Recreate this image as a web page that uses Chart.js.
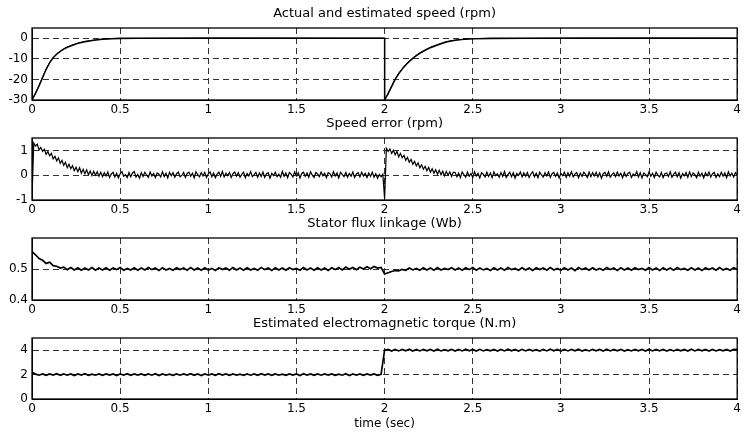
<!DOCTYPE html>
<html>
<head>
<meta charset="utf-8">
<script src="https://cdn.jsdelivr.net/npm/chart.js@4.4.0/dist/chart.umd.min.js"></script>
<style>
html, body { margin:0; padding:0; background:#fff; overflow:hidden; }
body { width:744px; height:434px; position:relative; }
canvas { position:absolute; left:0; }
</style>
</head>
<body>
<canvas id="c1" width="744" height="122" style="top:0px"></canvas>
<canvas id="c2" width="744" height="112" style="top:110px"></canvas>
<canvas id="c3" width="744" height="112" style="top:210px"></canvas>
<canvas id="c4" width="744" height="124" style="top:310px"></canvas>
<script>
// tick labels
const xTicks = [0, 0.5, 1, 1.5, 2, 2.5, 3, 3.5, 4];
const speedTicks = [-30, -20, -10, 0];
const errTicks = [-1, 0, 1];
const fluxTicks = [0.4, 0.5];
const torqueTicks = [0, 2, 4];

// speed (rpm)
const speedT = [0, 0.02, 0.04, 0.06, 0.08, 0.1, 0.12, 0.14, 0.16, 0.18, 0.2, 0.23, 0.26, 0.3, 0.35, 0.4, 0.45, 0.5, 0.6, 0.8, 1.0, 1.5, 2.0,
  2.0, 2.02, 2.04, 2.06, 2.08, 2.1, 2.12, 2.14, 2.16, 2.18, 2.2, 2.23, 2.26, 2.3, 2.35, 2.4, 2.45, 2.5, 2.6, 2.8, 3.0, 3.5, 4.0];
const speedActual = [-30, -26.8, -23.2, -19.2, -15.2, -11.9, -9.5, -7.8, -6.4, -5.3, -4.4, -3.4, -2.5, -1.7, -1.0, -0.5, -0.25, -0.1, -0.03, 0, 0, 0, 0,
  -30, -27, -23.5, -20, -17.3, -15, -13, -11.3, -9.8, -8.5, -7.3, -5.9, -4.6, -3.3, -1.8, -1.0, -0.55, -0.3, -0.12, -0.03, 0, 0, 0];
const speedEst = [-30, -26.5, -22.8, -18.8, -14.9, -11.7, -9.3, -7.6, -6.2, -5.1, -4.2, -3.2, -2.3, -1.5, -0.8, -0.35, -0.1, 0.05, 0.1, 0.05, 0.15, 0.1, 0.05,
  -30, -26.6, -23.1, -19.7, -17.0, -14.7, -12.7, -11.0, -9.5, -8.2, -7.0, -5.6, -4.3, -3.0, -1.6, -0.8, -0.4, -0.15, 0.05, 0.1, 0.1, 0.15, 0.1];

// speed error (rpm), one value every 0.01 s
const errT = [];
for (let i = 0; i <= 400; i++) errT.push(+(i * 0.01).toFixed(2));

const speedError = [
  -0.95, 1.30, 1.18, 1.25, 1.02, 1.12, 0.96, 1.05, 0.84, 0.95,
  0.78, 0.88, 0.66, 0.76, 0.58, 0.70, 0.48, 0.60, 0.40, 0.52,
  0.30, 0.44, 0.26, 0.38, 0.18, 0.32, 0.14, 0.30, 0.08, 0.24,
  0.06, 0.22, 0.02, 0.17, -0.02, 0.16, 0.00, 0.14, -0.04, 0.12,
  -0.06, 0.10, -0.03, 0.13, -0.09, 0.05, 0.12, -0.07, 0.08, -0.11,
  0.06, 0.14, -0.04, 0.02, -0.10, 0.11, -0.06, 0.09, 0.15, -0.08,
  0.03, -0.12, 0.10, -0.05, 0.12, 0.01, -0.09, 0.13, -0.03, 0.07,
  -0.10, 0.09, 0.04, -0.07, 0.14, -0.05, 0.08, -0.11, 0.12, -0.02,
  0.10, -0.08, 0.06, 0.13, -0.06, -0.01, 0.11, -0.09, 0.07, 0.12,
  -0.04, 0.08, -0.11, 0.14, 0.02, -0.07, 0.10, -0.03, 0.12, -0.09,
  0.05, 0.13, -0.06, 0.09, -0.10, 0.04, 0.12, -0.05, 0.15, -0.07,
  0.08, -0.02, 0.11, -0.09, 0.06, 0.13, -0.04, 0.10, -0.08, 0.03,
  0.12, -0.10, 0.07, -0.03, 0.14, -0.06, 0.02, 0.11, -0.08, 0.09,
  -0.05, 0.13, -0.09, 0.06, 0.10, -0.12, 0.08, -0.02, 0.12, -0.06,
  0.04, -0.08, 0.15, -0.04, 0.09, -0.10, 0.11, 0.03, -0.07, 0.13,
  -0.03, 0.10, -0.11, 0.07, 0.12, -0.05, 0.09, -0.08, 0.14, 0.00,
  -0.09, 0.11, 0.05, -0.06, 0.13, -0.02, 0.08, -0.10, 0.10, 0.06,
  -0.07, 0.14, -0.03, 0.09, -0.11, 0.12, 0.02, -0.06, 0.11, -0.08,
  0.07, -0.04, 0.13, -0.09, 0.05, 0.10, -0.07, 0.12, -0.03, 0.08,
  -0.10, 0.09, -0.05, 0.12, -0.08, 0.06, -0.12, 0.03, -0.06, 0.04,
  -0.95, 1.08, 0.96, 1.06, 0.88, 1.00, 0.82, 0.96, 0.74, 0.88,
  0.70, 0.80, 0.60, 0.72, 0.52, 0.64, 0.44, 0.56, 0.38, 0.50,
  0.30, 0.42, 0.24, 0.36, 0.18, 0.32, 0.12, 0.26, 0.08, 0.22,
  0.04, 0.20, 0.02, 0.16, -0.03, 0.15, 0.00, 0.13, -0.05, 0.12,
  0.11, -0.06, 0.09, -0.10, 0.13, 0.02, -0.08, 0.12, -0.04, 0.07,
  -0.09, 0.14, -0.03, 0.08, -0.11, 0.10, 0.04, -0.07, 0.12, -0.05,
  0.09, -0.10, 0.13, -0.02, 0.06, -0.08, 0.11, -0.05, 0.15, -0.09,
  0.03, 0.12, -0.06, 0.10, -0.12, 0.07, -0.01, 0.13, -0.07, 0.09,
  -0.04, 0.11, -0.09, 0.05, 0.14, -0.06, 0.08, -0.10, 0.12, 0.01,
  -0.08, 0.10, -0.03, 0.13, -0.09, 0.06, 0.11, -0.05, 0.09, -0.11,
  0.07, -0.02, 0.12, -0.08, 0.10, -0.04, 0.14, -0.07, 0.05, 0.11,
  -0.10, 0.08, -0.05, 0.12, 0.03, -0.09, 0.13, -0.06, 0.10, -0.03,
  0.12, -0.07, 0.09, -0.12, 0.06, 0.11, -0.04, 0.14, -0.08, 0.02,
  0.10, -0.06, 0.13, -0.03, 0.08, -0.10, 0.11, -0.05, 0.07, 0.12,
  -0.09, 0.05, -0.02, 0.14, -0.07, 0.10, -0.11, 0.09, 0.03, -0.06,
  0.13, -0.04, 0.08, -0.09, 0.12, 0.00, -0.07, 0.11, -0.10, 0.06,
  0.09, -0.05, 0.14, -0.08, 0.04, 0.12, -0.06, 0.10, -0.12, 0.07,
  -0.03, 0.11, -0.08, 0.13, -0.05, 0.09, 0.02, -0.10, 0.12, -0.04,
  0.08, -0.11, 0.10, -0.02, 0.13, -0.07, 0.06, 0.11, -0.09, 0.05,
  -0.06, 0.12, -0.04, 0.09, -0.10, 0.14, -0.03, 0.08, -0.07, 0.10,
  0.02];

// flux and torque, one value every 0.02 s
const sampleT = [];
for (let i = 0; i <= 200; i++) sampleT.push(+(i * 0.02).toFixed(2));

const statorFlux = [
  0.556, 0.546, 0.534, 0.528, 0.518, 0.522, 0.511, 0.509, 0.503, 0.506,
  0.498, 0.505, 0.497, 0.504, 0.496, 0.503, 0.497, 0.505, 0.496, 0.503,
  0.497, 0.504, 0.496, 0.503, 0.498, 0.505, 0.496, 0.502, 0.497, 0.504,
  0.496, 0.503, 0.497, 0.505, 0.498, 0.503, 0.495, 0.504, 0.497, 0.502,
  0.496, 0.504, 0.498, 0.503, 0.496, 0.505, 0.497, 0.503, 0.496, 0.504,
  0.497, 0.502, 0.495, 0.504, 0.498, 0.503, 0.496, 0.505, 0.497, 0.503,
  0.496, 0.504, 0.497, 0.502, 0.496, 0.505, 0.498, 0.503, 0.495, 0.504,
  0.497, 0.503, 0.496, 0.504, 0.498, 0.502, 0.496, 0.505, 0.497, 0.503,
  0.496, 0.504, 0.497, 0.503, 0.495, 0.504, 0.498, 0.505, 0.497, 0.506,
  0.499, 0.505, 0.498, 0.506, 0.500, 0.507, 0.501, 0.508, 0.503, 0.505,
  0.484, 0.488, 0.492, 0.495, 0.494, 0.499, 0.496, 0.503, 0.497, 0.502,
  0.496, 0.504, 0.497, 0.503, 0.496, 0.505, 0.497, 0.502, 0.498, 0.504,
  0.497, 0.503, 0.496, 0.504, 0.498, 0.505, 0.496, 0.503, 0.497, 0.502,
  0.495, 0.504, 0.497, 0.503, 0.496, 0.505, 0.498, 0.502, 0.496, 0.504,
  0.497, 0.503, 0.495, 0.504, 0.498, 0.503, 0.496, 0.505, 0.497, 0.502,
  0.496, 0.504, 0.497, 0.503, 0.495, 0.505, 0.498, 0.503, 0.496, 0.504,
  0.497, 0.502, 0.496, 0.505, 0.498, 0.503, 0.495, 0.504, 0.497, 0.503,
  0.496, 0.504, 0.498, 0.502, 0.496, 0.505, 0.497, 0.503, 0.495, 0.504,
  0.497, 0.503, 0.496, 0.505, 0.498, 0.502, 0.496, 0.504, 0.497, 0.503,
  0.495, 0.504, 0.498, 0.503, 0.496, 0.505, 0.497, 0.502, 0.496, 0.504,
  0.499];

const torque = [
  2.20, 2.04, 1.95, 2.06, 1.94, 2.05, 1.96, 2.07, 1.94, 2.05,
  1.95, 2.06, 1.93, 2.05, 1.96, 2.07, 1.94, 2.04, 1.95, 2.06,
  1.94, 2.05, 1.96, 2.06, 1.93, 2.05, 1.95, 2.07, 1.94, 2.05,
  1.96, 2.06, 1.94, 2.05, 1.95, 2.07, 1.93, 2.06, 1.95, 2.04,
  1.94, 2.06, 1.95, 2.05, 1.96, 2.07, 1.94, 2.05, 1.93, 2.06,
  1.95, 2.05, 1.94, 2.07, 1.96, 2.05, 1.94, 2.06, 1.95, 2.04,
  1.93, 2.06, 1.95, 2.05, 1.94, 2.07, 1.96, 2.05, 1.94, 2.06,
  1.95, 2.04, 1.94, 2.06, 1.96, 2.05, 1.93, 2.07, 1.95, 2.05,
  1.94, 2.06, 1.95, 2.05, 1.96, 2.06, 1.94, 2.04, 1.95, 2.07,
  1.93, 2.05, 1.95, 2.06, 1.94, 2.05, 1.96, 2.06, 1.94, 2.02,
  4.00, 4.06, 3.93, 4.07, 3.94, 4.06, 3.95, 4.08, 3.93, 4.06,
  3.94, 4.07, 3.95, 4.06, 3.93, 4.08, 3.94, 4.05, 3.95, 4.07,
  3.93, 4.06, 3.94, 4.08, 3.95, 4.06, 3.93, 4.07, 3.94, 4.05,
  3.95, 4.07, 3.93, 4.06, 3.94, 4.08, 3.95, 4.06, 3.93, 4.07,
  3.94, 4.06, 3.95, 4.05, 3.93, 4.07, 3.94, 4.08, 3.95, 4.06,
  3.93, 4.07, 3.94, 4.06, 3.95, 4.08, 3.93, 4.05, 3.94, 4.07,
  3.95, 4.06, 3.93, 4.08, 3.94, 4.06, 3.95, 4.07, 3.93, 4.05,
  3.94, 4.07, 3.95, 4.06, 3.93, 4.08, 3.94, 4.06, 3.95, 4.07,
  3.93, 4.05, 3.94, 4.07, 3.95, 4.06, 3.93, 4.08, 3.94, 4.06,
  3.95, 4.07, 3.93, 4.06, 3.94, 4.05, 3.95, 4.07, 3.93, 4.06,
  4.04];

Chart.defaults.font.family = '"DejaVu Sans", sans-serif';
Chart.defaults.font.size = 12;
Chart.defaults.color = "#000";

// black box round the plot area
const frame = {
  id: "frame",
  afterDraw(chart) {
    const a = chart.chartArea;
    const ctx = chart.ctx;
    ctx.save();
    ctx.strokeStyle = "#000";
    ctx.lineWidth = 1.3;
    ctx.strokeRect(a.left, a.top, a.right - a.left, a.bottom - a.top);
    ctx.restore();
  }
};

// panel title centred over the plot area, like the matlab subplot titles
const panelTitle = {
  id: "panelTitle",
  afterDraw(chart, args, opts) {
    const a = chart.chartArea;
    const ctx = chart.ctx;
    ctx.save();
    ctx.fillStyle = "#000";
    ctx.font = '13px "DejaVu Sans", sans-serif';
    ctx.textAlign = "center";
    ctx.textBaseline = "middle";
    ctx.fillText(opts.text, (a.left + a.right) / 2, a.top - 14);
    ctx.restore();
  }
};

function points(t, v) {
  return t.map((x, i) => ({ x: x, y: v[i] }));
}

function line(t, v, w) {
  return {
    data: points(t, v),
    borderColor: "#000",
    borderWidth: w,
    pointRadius: 0,
    tension: 0,
    fill: false
  };
}

function panel(id, title, datasets, yMin, yMax, yTicks, xAxisH, xTitle) {
  return new Chart(document.getElementById(id), {
    type: "line",
    data: { datasets: datasets },
    options: {
      responsive: false,
      animation: false,
      events: [],
      layout: { padding: { left: 0, right: 3, top: 28, bottom: 0 } },
      plugins: {
        legend: { display: false },
        tooltip: { enabled: false },
        title: { display: false },
        panelTitle: { text: title }
      },
      scales: {
        x: {
          type: "linear",
          min: 0,
          max: 4,
          afterBuildTicks: s => { s.ticks = xTicks.map(v => ({ value: v })); },
          afterFit: s => { s.height = xAxisH; },
          ticks: { color: "#000", padding: 3, maxRotation: 0, autoSkip: false, callback: v => String(v) },
          grid: { color: "#333", lineWidth: 1, drawTicks: false, borderDash: [6, 4] },
          border: { color: "#000", dash: [6, 4] },
          title: xTitle
            ? { display: true, text: xTitle, color: "#000", font: { size: 12 }, padding: { top: 0, bottom: 3 } }
            : { display: false }
        },
        y: {
          type: "linear",
          min: yMin,
          max: yMax,
          afterBuildTicks: s => { s.ticks = yTicks.map(v => ({ value: v })); },
          afterFit: s => { s.width = 32; },
          ticks: { color: "#000", padding: 4, autoSkip: false, callback: v => String(v) },
          grid: { color: "#333", lineWidth: 1, drawTicks: false, borderDash: [6, 4] },
          border: { color: "#000", dash: [6, 4] }
        }
      }
    },
    plugins: [frame, panelTitle]
  });
}

panel("c1", "Actual and estimated speed (rpm)",
  [line(speedT, speedActual, 1.4), line(speedT, speedEst, 1)],
  -30, 5, speedTicks, 22);

panel("c2", "Speed error (rpm)",
  [line(errT, speedError, 1.2)],
  -1, 1.5, errTicks, 22);

panel("c3", "Stator flux linkage (Wb)",
  [line(sampleT, statorFlux, 1.7)],
  0.4, 0.6, fluxTicks, 22);

panel("c4", "Estimated electromagnetic torque (N.m)",
  [line(sampleT, torque, 1.7)],
  0, 5, torqueTicks, 35, "time (sec)");
</script>
</body>
</html>
